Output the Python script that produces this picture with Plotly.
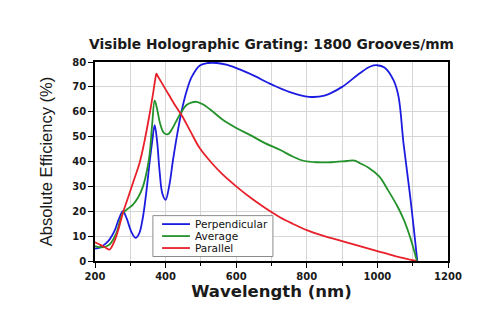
import plotly.graph_objects as go

# Perpendicular polarisation efficiency
perp_wl = [200, 215, 230, 241, 255, 268, 279, 290, 302, 315, 325, 335, 345, 355, 362, 369, 376, 383, 391,
           400, 410, 421, 433, 445, 460, 474, 497, 520, 545, 575, 610, 650, 700, 750, 806, 850, 900, 950,
           980, 999, 1020, 1046, 1060, 1074, 1094, 1113]
perp_eff = [5, 5.5, 7, 8.6, 12, 17, 20, 17, 12, 9.3, 11, 17, 27.3, 40, 48, 54.6, 48, 36, 27,
            24.6, 30, 40.6, 51, 60, 68.5, 74, 78.6, 79.6, 79.6, 78.8, 77, 74.5, 71, 68, 66, 66.5, 70, 75.5,
            78.2, 78.7, 77.8, 72.6, 66, 47.3, 24.6, 0]

# Average of both polarisations
avg_wl = [200, 220, 241, 260, 279, 293, 307, 322, 336, 348, 355, 362, 369, 376, 385, 395, 407, 420, 433,
          445, 460, 475, 488, 505, 530, 560, 600, 640, 680, 725, 760, 791, 829, 870, 914, 935, 951, 975,
          1005, 1030, 1057, 1075, 1094, 1112]
avg_eff = [6, 5.5, 6.6, 11, 19.3, 21, 22.6, 25.5, 30, 37, 43.3, 55, 64.6, 61, 55, 51.5, 51, 53.5, 57,
           60, 62.8, 63.8, 64, 63, 60.5, 57, 53.5, 50.6, 47.5, 44.6, 42, 40.3, 39.7, 39.7, 40.2, 40.4, 39.3, 37.5,
           34, 28.5, 21.9, 16.5, 9, 0]

# Parallel polarisation efficiency
par_wl = [200, 215, 228, 241, 255, 267, 279, 295, 310, 326, 340, 355, 365, 371, 374, 378, 390, 410, 430,
          446, 470, 497, 530, 560, 600, 640, 680, 725, 760, 800, 850, 900, 950, 1000, 1050, 1110]
par_eff = [7.5, 6.5, 5.5, 4.6, 8, 13, 19.3, 26, 32.5, 39.3, 48, 59.3, 67.8, 73.3, 75.3, 74.3, 71.4, 66.6, 61.9,
           58.5, 52.2, 45.3, 39.5, 35, 30, 25.5, 21.5, 17.5, 15, 12.4, 10, 8, 6, 4, 2, 0]

x_ticks = [200, 400, 600, 800, 1000, 1200]
y_ticks = [0, 10, 20, 30, 40, 50, 60, 70, 80]

series_names = ["Perpendicular", "Average", "Parallel"]
series_colors = ["#1c1ce0", "#23922a", "#e8202a"]

BOLD = "DejaVu Sans"
PLAIN = "Liberation Sans"
GRID = "#d6d6d6"

fig = go.Figure()
for name, xs, ys, color in zip(series_names, [perp_wl, avg_wl, par_wl],
                               [perp_eff, avg_eff, par_eff], series_colors):
    fig.add_trace(go.Scatter(
        x=xs, y=ys, name=name, mode="lines", showlegend=False,
        line=dict(color=color, width=1.8, shape="spline", smoothing=1.0),
    ))

# Compact boxed key in the lower-left of the plot area (paper coordinates)
box = dict(x0=0.164, x1=0.504, y0=0.0226, y1=0.228)
row_y = [0.1855, 0.1253, 0.0652]
fig.add_shape(type="rect", xref="paper", yref="paper", **box,
              line=dict(color="#8c8c8c", width=1), fillcolor="white", layer="above")
for name, color, yy in zip(series_names, series_colors, row_y):
    fig.add_shape(type="line", xref="paper", yref="paper", x0=0.190, x1=0.269, y0=yy, y1=yy,
                  line=dict(color=color, width=1.8), layer="above")
    fig.add_annotation(text=name, xref="paper", yref="paper", x=0.277, y=yy,
                       xanchor="left", yanchor="middle", showarrow=False,
                       font=dict(family=BOLD, size=10.5, color="#111111"))

fig.update_layout(
    width=500, height=334,
    margin=dict(l=95, r=52, t=62, b=73),
    paper_bgcolor="white", plot_bgcolor="white",
    title=dict(
        text="<b>Visible Holographic Grating: 1800 Grooves/mm</b>",
        xref="paper", x=0.5, xanchor="center", y=0.868, yanchor="middle",
        font=dict(family=BOLD, size=13.8, color="#1a1a1a"),
    ),
    showlegend=False,
)

fig.update_xaxes(
    range=[200, 1200], tickvals=x_ticks,
    ticktext=[f"<b>{v}</b>" for v in x_ticks],
    tickfont=dict(family=BOLD, size=10, color="#1a1a1a"),
    ticks="outside", ticklen=5, tickwidth=1.2, tickcolor="black",
    minor=dict(dtick=100, ticks="outside", ticklen=3, tickcolor="black", showgrid=True, gridcolor=GRID),
    showgrid=True, gridcolor=GRID, gridwidth=1,
    showline=True, linecolor="black", linewidth=1.6, mirror=True,
    zeroline=False,
    title=dict(text="<b>Wavelength (nm)</b>", font=dict(family=BOLD, size=16.5, color="#1a1a1a"), standoff=2),
)
fig.update_yaxes(
    range=[0, 80], tickvals=y_ticks,
    ticktext=[f"<b>{v}</b>" for v in y_ticks],
    tickfont=dict(family=BOLD, size=10, color="#1a1a1a"),
    ticks="outside", ticklen=5, tickwidth=1.2, tickcolor="black",
    showgrid=True, gridcolor=GRID, gridwidth=1,
    showline=True, linecolor="black", linewidth=1.6, mirror=True,
    zeroline=False,
    title=dict(text="Absolute Efficiency (%)", font=dict(family=PLAIN, size=16.5, color="#1a1a1a"), standoff=16),
)

fig.write_html("out.html")
